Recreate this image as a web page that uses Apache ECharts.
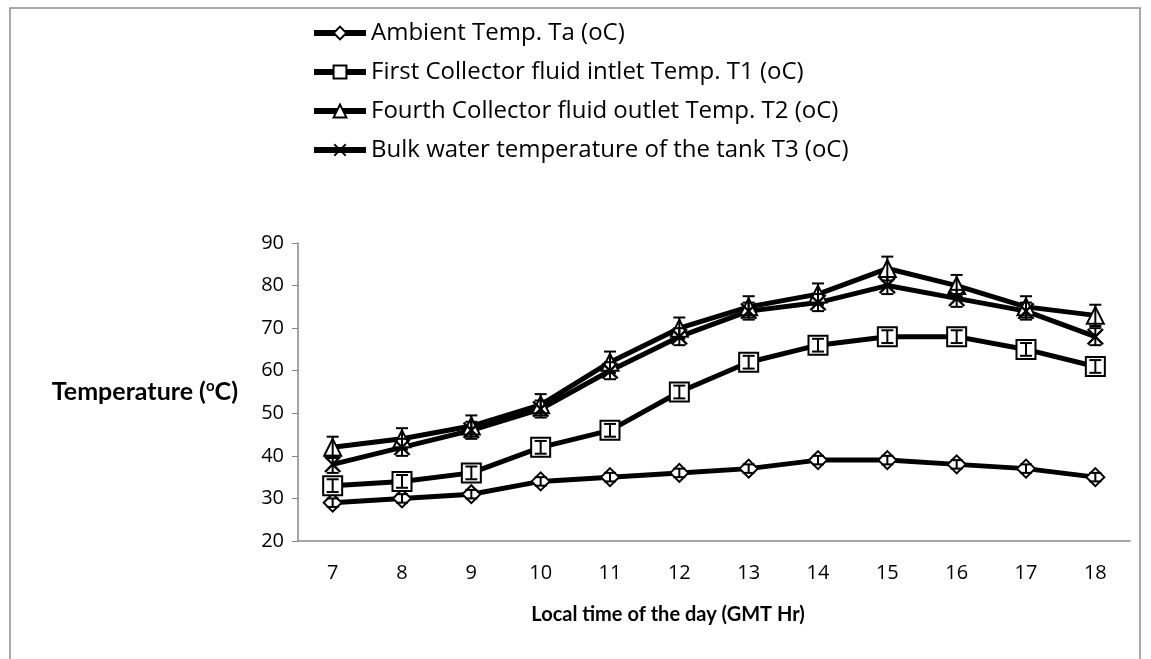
<!DOCTYPE html>
<html>
<head>
<meta charset="utf-8">
<script src="https://cdn.jsdelivr.net/npm/echarts@6/dist/echarts.min.js"></script>
<style>
  html, body { margin: 0; padding: 0; background: #fff; }
  #chart { width: 1151px; height: 659px; }
</style>
</head>
<body>
<div id="chart"></div>
<script>
// hours of the day
const hours = ['7', '8', '9', '10', '11', '12', '13', '14', '15', '16', '17', '18']

// temperatures (oC)
const ambientTa = [29, 30, 31, 34, 35, 36, 37, 39, 39, 38, 37, 35]
const inletT1 = [33, 34, 36, 42, 46, 55, 62, 66, 68, 68, 65, 61]
const outletT2 = [42, 44, 47, 52, 62, 70, 75, 78, 84, 80, 75, 73]
const tankT3 = [38, 42, 46, 51, 60, 68, 74, 76, 80, 77, 74, 68]

// error bar half-widths
const errTa = [1, 1, 1, 1, 1, 1, 1, 1, 1, 1, 1, 1]
const errT1 = [1.5, 1.5, 1.5, 1.5, 1.5, 1.5, 1.5, 1.5, 1.5, 1.5, 1.5, 1.5]
const errT2 = [2.5, 2.5, 2.5, 2.5, 2.5, 2.5, 2.5, 2.5, 2.8, 2.5, 2.5, 2.5]
const errT3 = [2, 2, 2, 2, 2, 2, 2, 2, 2, 2, 2, 2]

const names = [
  'Ambient Temp. Ta (oC)',
  'First Collector fluid intlet Temp. T1 (oC)',
  'Fourth Collector fluid outlet Temp. T2 (oC)',
  'Bulk water temperature of the tank T3 (oC)'
]

const crossPath = 'path://M2,0 L10,8 L18,0 L20,2 L12,10 L20,18 L18,20 L10,12 L2,20 L0,18 L8,10 L0,2 Z'

function lineSeries(name, data, symbol, size, filled) {
  return {
    name: name,
    type: 'line',
    data: data,
    symbol: symbol,
    symbolSize: size,
    showAllSymbol: true,
    z: 3,
    lineStyle: { color: '#000', width: 5 },
    itemStyle: filled
      ? { color: '#000', borderWidth: 0 }
      : { color: '#fff', borderColor: '#000', borderWidth: 2 }
  }
}

function errorSeries(values, errs) {
  return {
    type: 'custom',
    z: 5,
    silent: true,
    data: values.map((v, i) => [i, v, errs[i]]),
    renderItem: function (params, api) {
      const i = api.value(0)
      const v = api.value(1)
      const e = api.value(2)
      const hi = api.coord([i, v + e])
      const lo = api.coord([i, v - e])
      const w = 6
      const style = { stroke: '#000', lineWidth: 2 }
      return {
        type: 'group',
        children: [
          { type: 'line', shape: { x1: hi[0], y1: hi[1], x2: lo[0], y2: lo[1] }, style: style },
          { type: 'line', shape: { x1: hi[0] - w, y1: hi[1], x2: hi[0] + w, y2: hi[1] }, style: style },
          { type: 'line', shape: { x1: lo[0] - w, y1: lo[1], x2: lo[0] + w, y2: lo[1] }, style: style }
        ]
      }
    }
  }
}

const chart = echarts.init(document.getElementById('chart'))

const option = {
  backgroundColor: '#fff',
  animation: false,
  textStyle: { fontFamily: '"Open Sans", sans-serif' },
  graphic: [{
    type: 'rect',
    shape: { x: 10, y: 8, width: 1130, height: 680 },
    style: { fill: 'none', stroke: '#8c8c8c', lineWidth: 1.5 },
    silent: true
  }],
  legend: {
    data: names,
    orient: 'vertical',
    left: 306,
    top: 16,
    itemWidth: 52,
    itemHeight: 16,
    itemGap: 15,
    lineStyle: { width: 6 },
    textStyle: { fontSize: 24, color: '#000', fontFamily: '"Open Sans", sans-serif' }
  },
  grid: {
    left: 298,
    right: 21,
    top: 243,
    bottom: 118
  },
  xAxis: {
    type: 'category',
    data: hours,
    boundaryGap: true,
    name: 'Local time of the day (GMT Hr)',
    nameLocation: 'middle',
    nameGap: 64,
    nameTextStyle: { fontSize: 20, fontWeight: 'bold', color: '#000', fontFamily: 'Lato, sans-serif', padding: [0, 92, 0, 0] },
    axisLine: { lineStyle: { color: '#868686', width: 1.5 } },
    axisTick: { length: 6, lineStyle: { color: '#868686' } },
    axisLabel: { fontSize: 20, color: '#000', margin: 22 }
  },
  yAxis: {
    type: 'value',
    min: 20,
    max: 90,
    interval: 10,
    name: '{a|Temperature (}{s|o}{a|C)}',
    nameLocation: 'middle',
    nameRotate: 0,
    nameGap: 60,
    nameTextStyle: {
      rich: {
        a: { fontSize: 25, fontWeight: 'bold', color: '#000', fontFamily: 'Lato, sans-serif' },
        s: { fontSize: 15, fontWeight: 'bold', color: '#000', verticalAlign: 'top', padding: [0, 0, 11, 0], fontFamily: 'Lato, sans-serif' }
      }
    },
    splitLine: { show: false },
    axisLine: { show: true, lineStyle: { color: '#868686', width: 1.5 } },
    axisTick: { show: true, length: 6, lineStyle: { color: '#868686' } },
    axisLabel: { fontSize: 20, color: '#000', margin: 14 }
  },
  series: [
    lineSeries(names[0], ambientTa, 'diamond', 18, false),
    lineSeries(names[1], inletT1, 'rect', 19, false),
    lineSeries(names[2], outletT2, 'triangle', 17, false),
    lineSeries(names[3], tankT3, crossPath, 17, true),
    errorSeries(ambientTa, errTa),
    errorSeries(inletT1, errT1),
    errorSeries(outletT2, errT2),
    errorSeries(tankT3, errT3)
  ]
}

chart.setOption(option)
window.onresize = function () {
  chart.resize()
}
</script>
</body>
</html>
